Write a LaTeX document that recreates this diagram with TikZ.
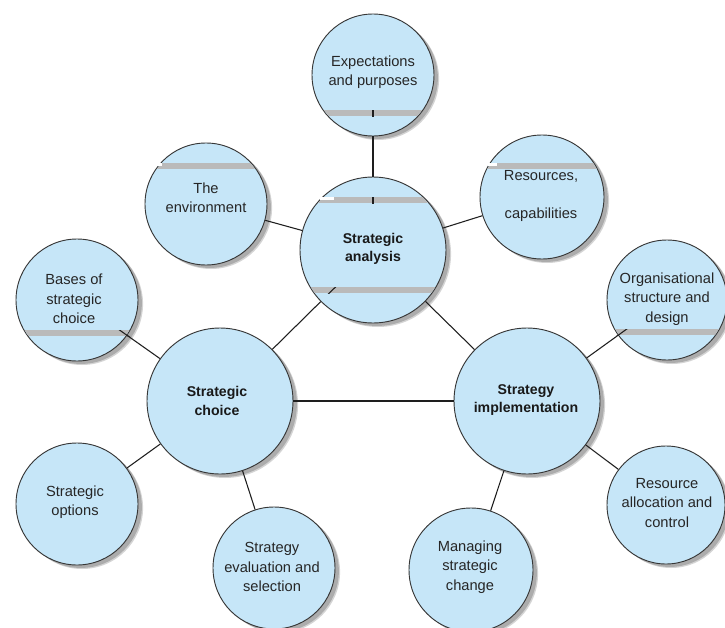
\documentclass[tikz,border=0pt]{standalone}
\usepackage{fontspec}
\setmainfont{Liberation Sans}
\usetikzlibrary{shadows}

\definecolor{bubblefill}{RGB}{198,230,248}
\definecolor{rimline}{RGB}{55,55,55}
\definecolor{barfill}{RGB}{186,186,186}
\definecolor{shadefill}{RGB}{172,172,172}
\definecolor{shadehalo}{RGB}{212,212,212}
\definecolor{inkline}{RGB}{30,30,30}

% grey band across a bubble: centre x, centre y, radius (px), band y (px)
\newcommand\greyband[4]{%
  \begin{scope}
    \clip (#1,#2) circle[radius={(#3-0.6)*0.75pt}];
    \fill[barfill] (#1-#3,#4-3) rectangle (#1+#3,#4+3);
  \end{scope}}

% short piece of a link seen through a band: x-left, x-right, band y, node a, node b
\newcommand\bandtick[5]{%
  \begin{scope}
    \clip (#1,#3-3) rectangle (#2,#3+3);
    \draw[link] (#4.center) -- (#5.center);
  \end{scope}}

\begin{document}
\begin{tikzpicture}[x=0.75pt,y=-0.75pt,
  bub/.style={circle, draw=rimline, line width=0.7pt, fill=bubblefill, inner sep=0pt,
    drop shadow={shadow xshift=3.8pt, shadow yshift=-3pt, fill=shadehalo, opacity=1},
    drop shadow={shadow xshift=2.9pt, shadow yshift=-2.2pt, fill=shadefill, opacity=1}},
  lbl/.style={align=center, inner sep=0pt, text=black!85,
    font=\fontsize{11}{14.6}\selectfont},
  lblb/.style={align=center, inner sep=0pt, text=black!90,
    font=\fontsize{10.6}{13.6}\selectfont\bfseries},
  link/.style={draw=inkline, line width=0.8pt}]

\useasboundingbox (0,0) rectangle (725,628);

% bubbles
\node[bub, minimum size=91.5pt]  (exp) at (373,75)  {};
\node[bub, minimum size=91.5pt]  (env) at (206,204) {};
\node[bub, minimum size=93pt]    (res) at (542,197) {};
\node[bub, minimum size=109.5pt] (ana) at (373,250) {};
\node[bub, minimum size=91.5pt]  (bas) at (77,300)  {};
\node[bub, minimum size=90pt]    (org) at (667,300) {};
\node[bub, minimum size=109.5pt] (cho) at (220,401) {};
\node[bub, minimum size=109.5pt] (imp) at (527,401) {};
\node[bub, minimum size=91.5pt]  (opt) at (77,504)  {};
\node[bub, minimum size=88.5pt]  (ral) at (666,505) {};
\node[bub, minimum size=91.5pt]  (eva) at (274,568) {};
\node[bub, minimum size=93pt]    (man) at (471,570) {};

% grey bands
\greyband{373}{75}{61}{113}
\greyband{206}{204}{61}{166}
\greyband{542}{197}{62}{166}
\greyband{373}{250}{73}{200}
\greyband{373}{250}{73}{290}
\greyband{77}{300}{61}{333}
\greyband{667}{300}{60}{332}

% small white slivers at the left end of some bands
\fill[white] (155,163) rectangle (162,165.5);
\fill[white] (488,163) rectangle (497,165.5);
\fill[white] (320,197) rectangle (334,199.5);

% links
\draw[link] (exp) -- (ana);
\draw[link] (env) -- (ana);
\draw[link] (res) -- (ana);
\draw[link] (ana) -- (cho);
\draw[link] (ana) -- (imp);
\draw[link] (cho) -- (imp);
\draw[link] (bas) -- (cho);
\draw[link] (opt) -- (cho);
\draw[link] (eva) -- (cho);
\draw[link] (org) -- (imp);
\draw[link] (ral) -- (imp);
\draw[link] (man) -- (imp);

% links showing through the bands
\bandtick{370}{376}{113}{exp}{ana}
\bandtick{370}{376}{200}{exp}{ana}
\bandtick{300}{360}{290}{ana}{cho}
\bandtick{100}{140}{333}{bas}{cho}
\bandtick{600}{650}{332}{org}{imp}

% labels
\node[lbl]  (exp-t) at (373,72)  {Expectations\\and purposes};
\node[lbl]  (env-t) at (206,198) {The\\environment};
\node[lbl]  (res-t) at (541,196) {Resources,\\[14.6pt]capabilities};
\node[lblb] (ana-t) at (373,249) {Strategic\\analysis};
\node[lbl]  (bas-t) at (74,299)  {Bases of\\strategic\\choice};
\node[lbl]  (org-t) at (667,299) {Organisational\\structure and\\design};
\node[lblb] (cho-t) at (217,401) {Strategic\\choice};
\node[lblb] (imp-t) at (526,400) {Strategy\\implementation};
\node[lbl]  (opt-t) at (75,502)  {Strategic\\options};
\node[lbl]  (ral-t) at (667,503) {Resource\\allocation and\\control};
\node[lbl]  (eva-t) at (272,567) {Strategy\\evaluation and\\selection};
\node[lbl]  (man-t) at (470,567) {Managing\\strategic\\change};

\end{tikzpicture}
\end{document}
